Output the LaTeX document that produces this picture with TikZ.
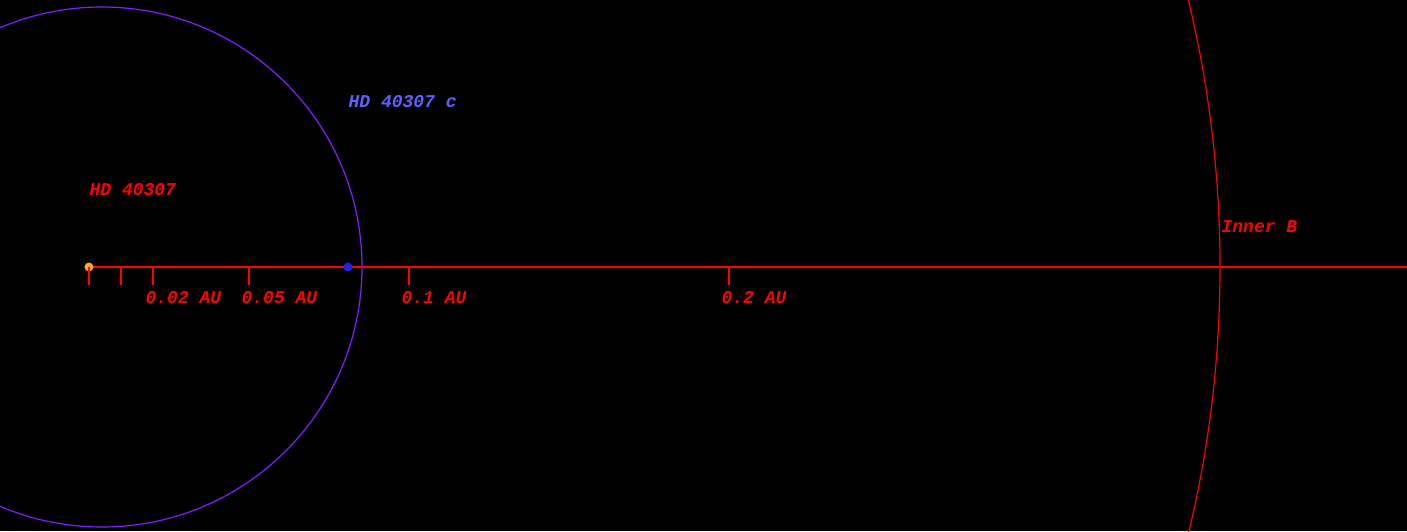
\documentclass[tikz,border=0pt]{standalone}
\usepackage{fontspec}
\setmonofont{Liberation Mono}
\definecolor{orbitc}{RGB}{128,32,255}
\definecolor{labelc}{RGB}{96,96,255}
\definecolor{planetc}{RGB}{32,32,240}
\definecolor{starc}{RGB}{255,170,34}
\tikzset{
  lbl/.style={font=\ttfamily\bfseries\itshape\fontsize{18}{18}\selectfont,
    inner sep=0pt, anchor=base west},
  body/.style={circle, inner sep=0pt, minimum size=9pt}
}
\begin{document}
\begin{tikzpicture}[x=320pt,y=320pt,line width=1.2pt]
  % 1 unit = 0.1 AU
  \fill[black] (-0.278125,-0.825) rectangle (4.11875,0.834375);
  \useasboundingbox (-0.278125,-0.825) rectangle (4.11875,0.834375);
  \clip (-0.278125,-0.825) rectangle (4.11875,0.834375);

  \coordinate (edge) at (4.11875,0);
  \node[body] (star) at (0,0) {};
  \node[body] (planet) at (0.809375,0) {};

  \draw[orbitc] (0.040625,0) circle [radius=0.8125];
  \draw[red] (star.center) circle [radius=3.534375];
  \draw[red] (star.center) -- (edge);
  \fill[starc] (star) circle [radius=4.5pt];
  \fill[planetc] (planet) circle [radius=4.5pt];

  \foreach \x in {0,0.1,0.2,0.5,1,2}
    \draw[red] (\x,0) -- (\x,-0.05625);
  \foreach \x/\t in {0.2/0.02,0.5/0.05,1/0.1,2/0.2}
    \node[lbl, text=red] (tick\t) at (\x-0.025,-0.1125) {\t{} AU};

  \node[lbl, text=red] (starname) at (0,0.2234) {HD 40307};
  \node[lbl, text=labelc] (planetname) at (0.809375,0.5) {HD 40307 c};
  \node[lbl, text=red] (innerb) at (3.5375,0.109375) {Inner B};
\end{tikzpicture}
\end{document}
